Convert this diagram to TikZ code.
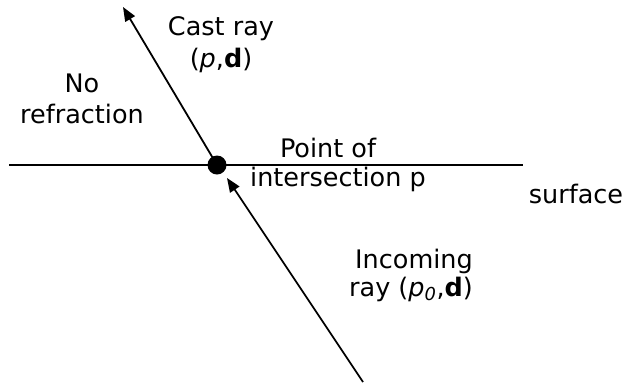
\documentclass[tikz,border=0pt]{standalone}
\usepackage{fontspec}
\setmainfont{DejaVu Sans}
\usetikzlibrary{arrows.meta}
\begin{document}
\begin{tikzpicture}[x=1bp,y=-1bp,
  lbl/.style={anchor=base,inner sep=0pt,font=\fontsize{25.5bp}{30bp}\selectfont,align=center},
  ray/.style={line width=1.8bp,-{Triangle[length=14bp,width=11bp]}},
  surf/.style={line width=2.4bp}]
\useasboundingbox (0,0) rectangle (628,383);
% surface
\coordinate (sl) at (9,165);
\coordinate (sr) at (523,165);
\draw[surf] (sl) -- (sr);
% intersection point
\node[circle,fill=black,minimum size=19bp,inner sep=0pt] (pt) at (217,165) {};
% rays
\coordinate (inStart) at (363,382);
\coordinate (inEnd) at (227,178);
\coordinate (castEnd) at (123,7);
\draw[ray] (inStart) -- (inEnd);
\draw[ray] (pt.center) -- (castEnd);
% labels
\node[lbl] (cast1) at (221,35) {Cast ray};
\node[lbl] (cast2) at (221,67) {(\textit{p},\textbf{d})};
\node[lbl] (no1) at (82,92) {No};
\node[lbl] (no2) at (82,123) {refraction};
\node[lbl] (poi1) at (328,157) {Point of};
\node[lbl] (poi2) at (338,186) {intersection p};
\node[lbl] (surface) at (576,203) {surface};
\node[lbl] (inc1) at (414,268) {Incoming};
\node[lbl] (inc2) at (411,296) {ray (\textit{p}\textsubscript{\textit{0}},\textbf{d})};
\end{tikzpicture}
\end{document}
